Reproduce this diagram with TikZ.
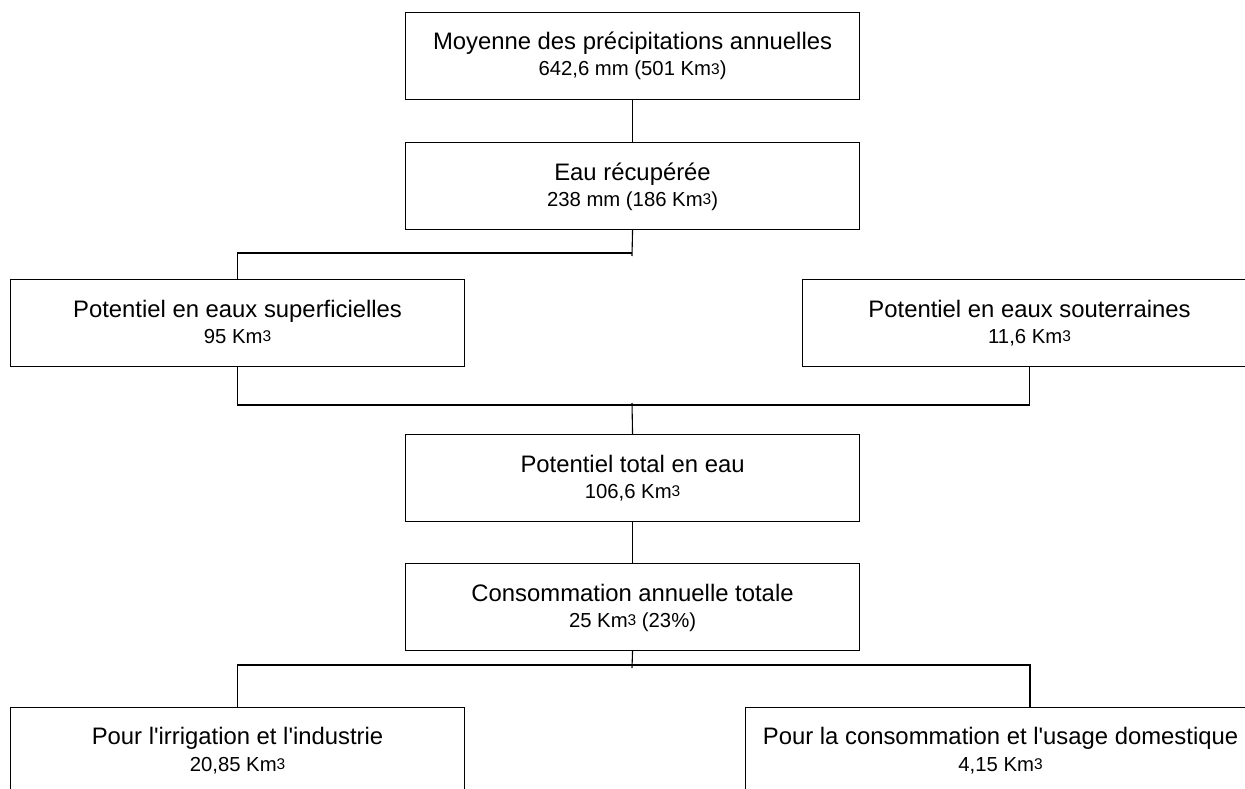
\documentclass[tikz,border=0pt]{standalone}
\usepackage{fontspec}
\setmainfont{Liberation Sans}
\newcommand\kmcube{Km{\fontsize{15.5}{15.5}\selectfont\raisebox{1.8pt}{3}}}
\newcommand\apos{\textquotesingle}
\begin{document}
\begin{tikzpicture}[x=1pt,y=-1pt,
  box/.style={draw, line width=1.1pt, minimum width=454pt, minimum height=87pt, inner sep=0pt, anchor=north west},
  conn/.style={draw, line width=1.1pt},
  lone/.style={anchor=base, inner sep=0pt, font=\fontsize{23.85}{28}\selectfont},
  ltwo/.style={anchor=base, inner sep=0pt, font=\fontsize{20.3}{24}\selectfont}]
\useasboundingbox (0,0) rectangle (1245,789);
\clip (0,0) rectangle (1245,789);
\fill[white] (0,0) rectangle (1245,789);
% boxes
\node[box] (b1) at (405,12) {};
\node[box] (b2) at (405,142) {};
\node[box] (b3) at (10,279) {};
\node[box] (b4) at (802,279) {};
\node[box] (b5) at (405,434) {};
\node[box] (b6) at (405,563) {};
\node[box] (b7) at (10,707) {};
\node[box, minimum width=510pt] (b8) at (745,707) {};
% texts
\node[lone] (t1a) at ([yshift=-38pt]b1.north) {Moyenne des précipitations annuelles};
\node[ltwo] (t1b) at ([yshift=-64pt]b1.north) {642,6 mm (501 \kmcube)};
\node[lone] (t2a) at ([yshift=-38pt]b2.north) {Eau récupérée};
\node[ltwo] (t2b) at ([yshift=-64pt]b2.north) {238 mm (186 \kmcube)};
\node[lone] (t3a) at ([yshift=-38pt]b3.north) {Potentiel en eaux superficielles};
\node[ltwo] (t3b) at ([yshift=-64pt]b3.north) {95 \kmcube};
\node[lone] (t4a) at ([yshift=-38pt]b4.north) {Potentiel en eaux souterraines};
\node[ltwo] (t4b) at ([yshift=-64pt]b4.north) {11,6 \kmcube};
\node[lone] (t5a) at ([yshift=-38pt]b5.north) {Potentiel total en eau};
\node[ltwo] (t5b) at ([yshift=-64pt]b5.north) {106,6 \kmcube};
\node[lone] (t6a) at ([yshift=-38pt]b6.north) {Consommation annuelle totale};
\node[ltwo] (t6b) at ([yshift=-64pt]b6.north) {25 \kmcube{} (23\%)};
\node[lone] (t7a) at ([yshift=-37pt]b7.north) {Pour l\apos irrigation et l\apos industrie};
\node[ltwo] (t7b) at ([yshift=-64pt]b7.north) {20,85 \kmcube};
\node[lone] (t8a) at ([yshift=-37pt]b8.north) {Pour la consommation et l\apos usage domestique};
\node[ltwo] (t8b) at ([yshift=-64pt]b8.north) {4,15 \kmcube};
% junction coordinates
\coordinate (j1) at (632,253);
\coordinate (j1b) at (632,256);
\coordinate (j2) at (632,405);
\coordinate (j2t) at (632,403);
\coordinate (j3) at (632,665);
\coordinate (j3b) at (632,668);
\coordinate (c8) at (1030,707);
% connectors
\draw[conn] (b1.south) -- (b2.north);
\draw[conn] (b2.south) -- (j1b);
\draw[conn] (b3.north) |- (j1);
\draw[conn] (b3.south) -- (b3.south |- j2) -- (b4.south |- j2) -- (b4.south);
\draw[conn] (j2t) -- (b5.north);
\draw[conn] (b5.south) -- (b6.north);
\draw[conn] (b6.south) -- (j3b);
\draw[conn] (b7.north) -- (b7.north |- j3) -- (c8 |- j3) -- (c8);
\end{tikzpicture}
\end{document}
